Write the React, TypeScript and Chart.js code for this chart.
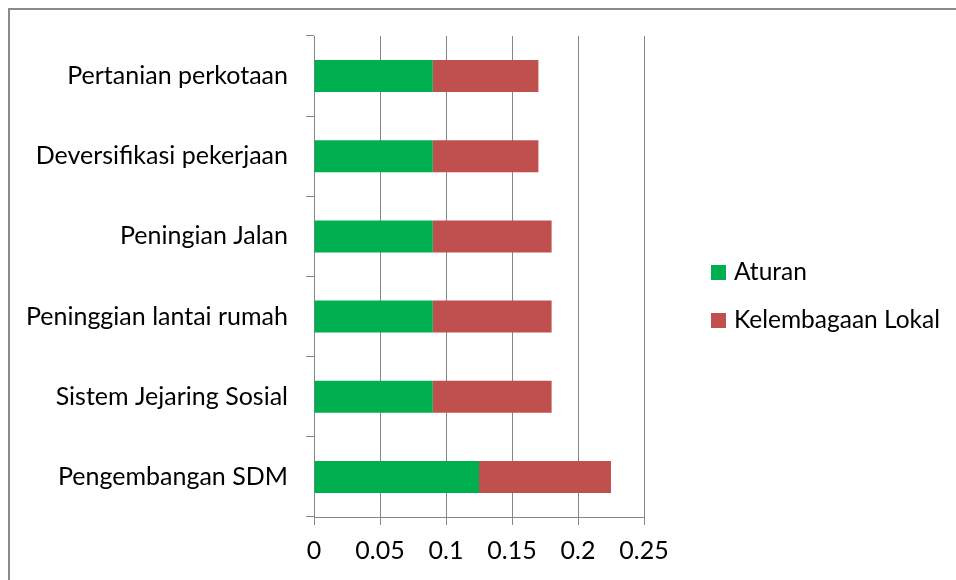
import React, { useEffect, useRef } from "react";
import { Chart, registerables } from "chart.js";

Chart.register(...registerables);

const categories = [
  "Pertanian perkotaan",
  "Deversifikasi pekerjaan",
  "Peningian Jalan",
  "Peninggian lantai rumah",
  "Sistem Jejaring Sosial",
  "Pengembangan SDM",
];
const aturan = [0.09, 0.09, 0.09, 0.09, 0.09, 0.125];
const kelembagaan = [0.08, 0.08, 0.09, 0.09, 0.09, 0.1];
const seriesNames = ["Aturan", "Kelembagaan Lokal"];
const seriesColors = ["#00B050", "#C0504D"];
const xMin = 0;
const xMax = 0.25;
const xStep = 0.05;

const FONT = "Lato, 'Open Sans', sans-serif";
const GRID = "#868686";
const FRAME = "#8a8a8a";

const frame = {
  id: "frame",
  beforeDraw(chart: any) {
    const { ctx, width, height } = chart;
    ctx.save();
    ctx.fillStyle = "#fff";
    ctx.fillRect(0, 0, width, height);
    ctx.fillStyle = FRAME;
    ctx.fillRect(0, 0, width, 2);
    ctx.fillRect(0, 0, 2, height);
    ctx.restore();
  },
};

const sideLegend = {
  id: "sideLegend",
  afterDraw(chart: any) {
    const { ctx, chartArea } = chart;
    const box = 15;
    const gap = 48;
    const x = chartArea.right + 67;
    const midY = (chartArea.top + chartArea.bottom) / 2 + 20;
    const n = chart.data.datasets.length;
    ctx.save();
    ctx.font = `24.5px ${FONT}`;
    ctx.textBaseline = "middle";
    ctx.textAlign = "left";
    chart.data.datasets.forEach((ds: any, i: number) => {
      const cy = midY + (i - (n - 1) / 2) * gap;
      ctx.fillStyle = ds.backgroundColor;
      ctx.fillRect(x, cy - box / 2, box, box);
      ctx.fillStyle = "#000";
      ctx.fillText(ds.label, x + box + 8, cy);
    });
    ctx.restore();
  },
};

export default function App() {
  const ref = useRef<HTMLCanvasElement | null>(null);
  useEffect(() => {
    if (!ref.current) return;
    const chart = new Chart(ref.current, {
      type: "bar",
      data: {
        labels: categories,
        datasets: [
          { label: seriesNames[0], data: aturan, backgroundColor: seriesColors[0] },
          { label: seriesNames[1], data: kelembagaan, backgroundColor: seriesColors[1] },
        ],
      },
      options: {
        indexAxis: "y",
        animation: false,
        responsive: false,
        maintainAspectRatio: false,
        layout: { padding: { top: 28, right: 312, left: 0, bottom: 0 } },
        datasets: { bar: { barPercentage: 0.4, categoryPercentage: 1.0 } },
        plugins: { legend: { display: false }, tooltip: { enabled: false } },
        scales: {
          x: {
            stacked: true,
            min: xMin,
            max: xMax,
            ticks: {
              stepSize: xStep,
              color: "#000",
              font: { family: FONT, size: 25 },
              padding: 11,
              maxRotation: 0,
              callback: (v: any) => String(Number(Number(v).toFixed(4))),
            },
            grid: { color: GRID, lineWidth: 1, tickLength: 8, drawTicks: true },
            border: { display: true, color: GRID, width: 1 },
            afterFit: (s: any) => {
              s.height = 63;
              s.paddingLeft = 0;
              s.paddingRight = 0;
            },
          },
          y: {
            stacked: true,
            ticks: {
              color: "#000",
              font: { family: FONT, size: 25 },
              padding: 18,
            },
            grid: { drawOnChartArea: false, drawTicks: true, tickLength: 8, color: GRID, offset: true },
            border: { display: true, color: GRID, width: 1 },
            afterFit: (s: any) => {
              s.width = 306;
              s.paddingTop = 0;
              s.paddingBottom = 0;
            },
          },
        },
      },
      plugins: [frame, sideLegend],
    });
    return () => chart.destroy();
  }, []);
  return (
    <div style={{ position: "absolute", left: 8, top: 8, width: 948, height: 572, overflow: "hidden" }}>
      <canvas ref={ref} width={948} height={572} style={{ display: "block", width: 948, height: 572 }} />
    </div>
  );
}
